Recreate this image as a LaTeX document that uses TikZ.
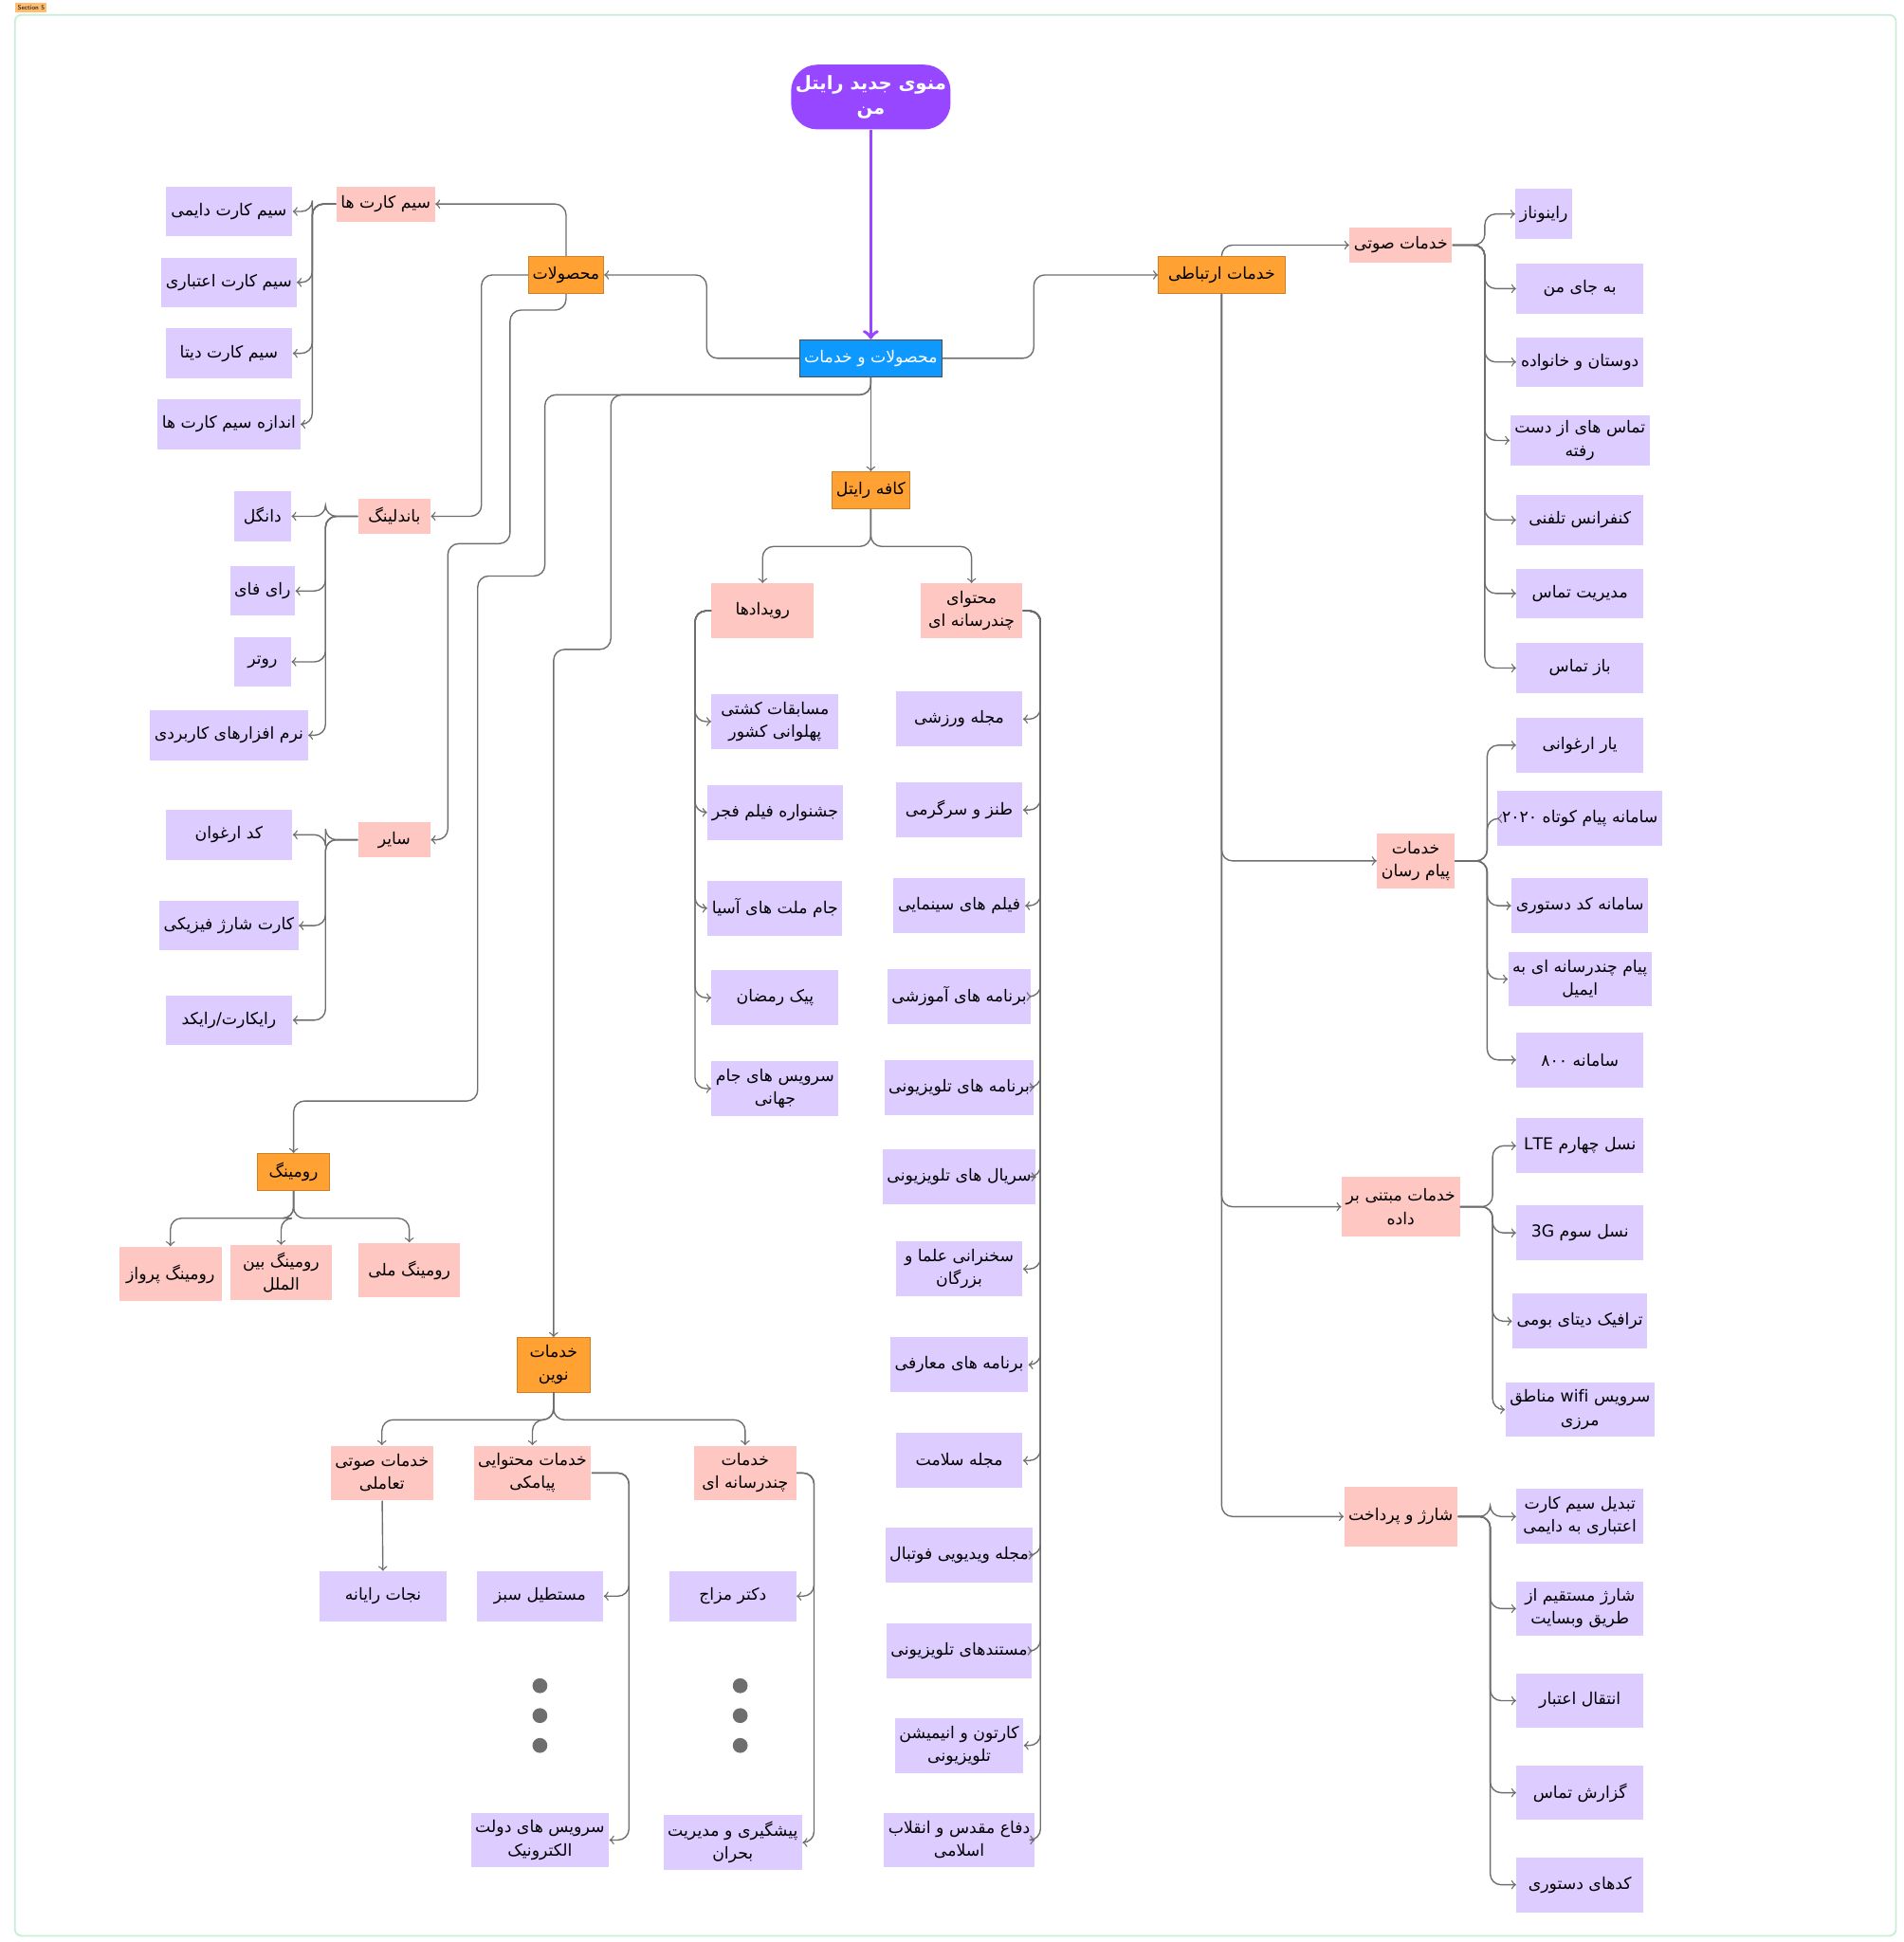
\documentclass[tikz,border=0pt]{standalone}
\usepackage{fontspec}
\newfontfamily\persian{DejaVu Sans}[Script=Arabic]
\usetikzlibrary{shapes,arrows,positioning,fit,calc}
\TeXXeTstate=1
\newcommand{\fa}[1]{\beginR #1\endR}
\definecolor{rootc}{HTML}{9747FF}
\definecolor{hubc}{HTML}{0D99FF}
\definecolor{orangec}{HTML}{FFA133}
\definecolor{pinkc}{HTML}{FFC7C2}
\definecolor{lavc}{HTML}{DCCCFF}
\definecolor{linec}{HTML}{6E6E6E}
\definecolor{framec}{HTML}{C9EED6}
\begin{document}
\begin{tikzpicture}[x=0.02cm, y=-0.02cm]
        % Define styles
        \tikzstyle{base} = [rectangle, align=center, inner sep=2pt,
            font=\persian\fontsize{7.5}{10.5}\selectfont]
        \tikzstyle{item} = [base, fill=lavc, minimum width=2.04cm, minimum height=0.8cm]
        \tikzstyle{group} = [base, fill=pinkc, minimum width=1.64cm, minimum height=0.56cm]
        \tikzstyle{main} = [base, fill=orangec, draw=orangec!80!black, line width=0.3pt, minimum width=1.16cm, minimum height=0.6cm]
        \tikzstyle{arrow} = [->, >=to, draw=linec, line width=0.6pt, rounded corners=5pt]

        \useasboundingbox (0,0) rectangle (1530,1561);
        \draw[framec, line width=0.8pt, rounded corners=3pt] (12,12) rectangle (1524,1556);
        \node[fill=orangec!70, inner sep=1pt, font=\sffamily\fontsize{3}{3}\selectfont, anchor=north west] (tag) at (12,2) {Section 5};

        % Nodes
        \node [base, fill=rootc, text=white, rounded corners=12pt, minimum width=2cm, minimum height=1.04cm, font=\persian\bfseries\fontsize{8.5}{11}\selectfont] (root) at (700,78) {\fa{منوی جدید رایتل}\\\fa{من}};
        \node [base, fill=hubc, draw=black!70, text=white, minimum width=2.04cm, minimum height=0.6cm] (hub) at (700,288) {\fa{محصولات و خدمات}};
        \node [main] (products) at (455,221) {\fa{محصولات}};
        \node [main, minimum width=2.04cm] (comm) at (982,221) {\fa{خدمات ارتباطی}};
        \node [main] (cafe) at (700,394) {\fa{کافه رایتل}};
        \node [main] (roaming) at (236,942) {\fa{رومینگ}};
        \node [main, minimum height=0.88cm] (novin) at (445,1097) {\fa{خدمات}\\\fa{نوین}};

        \node [group, minimum width=1.44cm] (sims) at (310,164) {\fa{سیم کارت ها}};
        \node [group, minimum width=1.16cm] (bundling) at (317,415) {\fa{باندلینگ}};
        \node [group, minimum width=1.16cm] (other) at (317,675) {\fa{سایر}};
        \node [group, minimum height=0.88cm] (events) at (613,491) {\fa{رویدادها}};
        \node [group, minimum height=0.88cm] (media) at (781,491) {\fa{محتوای}\\\fa{چندرسانه ای}};
        \node [group] (voice) at (1126,197) {\fa{خدمات صوتی}};
        \node [group, minimum width=1.16cm, minimum height=0.88cm] (msg) at (1138,692) {\fa{خدمات}\\\fa{پیام رسان}};
        \node [group, minimum height=0.96cm] (data) at (1126,970) {\fa{خدمات مبتنی بر}\\\fa{داده}};
        \node [group, minimum height=0.96cm] (charge) at (1126,1219) {\fa{شارژ و پرداخت}};
        \node [group, minimum height=0.88cm] (flight) at (137,1024) {\fa{رومینگ پرواز}};
        \node [group, minimum height=0.88cm] (intl) at (226,1023) {\fa{رومینگ بین}\\\fa{الملل}};
        \node [group, minimum height=0.88cm] (national) at (329,1021) {\fa{رومینگ ملی}};
        \node [group, minimum height=0.88cm] (ivr) at (307,1184) {\fa{خدمات صوتی}\\\fa{تعاملی}};
        \node [group, minimum height=0.88cm] (sms) at (428,1184) {\fa{خدمات محتوایی}\\\fa{پیامکی}};
        \node [group, minimum height=0.88cm] (mms) at (599,1184) {\fa{خدمات}\\\fa{چندرسانه ای}};

        % Arrows from the hub
        \draw [->, >=to, draw=rootc, line width=1.6pt] (root) -- (hub);
        \draw [arrow] (hub.west) -- (568,288) |- (products.east);
        \draw [arrow] (hub.east) -- (831,288) |- (comm.west);
        \draw [arrow] (hub) -- (cafe);
        \draw [arrow] (hub.south) -- ++(0,14) -| (438,463) -| (384,885) -| (roaming.north);
        \draw [arrow] (hub.south) -- ++(0,14) -| (491,522) -| (novin.north);
        \draw [arrow] (products.north) |- (sims.east);
        \draw [arrow] (products.west) -- (387,221) |- (bundling.east);
        \draw [arrow] (products.south) -- ++(0,13) -| (410,437) -| (360,675) -- (other.east);
        \draw [arrow] (cafe.south) -- ++(0,30) -| (events.north);
        \draw [arrow] (cafe.south) -- ++(0,30) -| (media.north);
        \draw [arrow] (comm.north) |- (voice.west);
        \foreach \g in {msg, data, charge}
            \draw [arrow] (comm.south) |- (\g.west);
        \foreach \g in {flight, intl, national}
            \draw [arrow] (roaming.south) -- ++(0,22) -| (\g.north);
        \foreach \g in {ivr, sms, mms}
            \draw [arrow] (novin.south) -- ++(0,22) -| (\g.north);

        % Left side lists
        \foreach \y/\t [count=\i] in {170/{\fa{سیم کارت دایمی}}, 227/{\fa{سیم کارت اعتباری}},
                284/{\fa{سیم کارت دیتا}}, 341/{\fa{اندازه سیم کارت ها}}} {
            \node [item] (sim\i) at (184,\y) {\t};
            \draw [arrow] (sims.west) -- ++(-19,0) |- (sim\i.east);
        }
        \foreach \x/\y/\w/\t [count=\i] in {211/415/0.92/{\fa{دانگل}}, 211/475/0.92/{\fa{رای فای}},
                211/532/0.92/{\fa{روتر}}, 184/591/2.04/{\fa{نرم افزارهای کاربردی}}} {
            \node [item, minimum width=\w cm] (bund\i) at (\x,\y) {\t};
            \draw [arrow] (bundling.west) -- ++(-26,0) |- (bund\i.east);
        }
        \foreach \y/\t [count=\i] in {671/{\fa{کد ارغوان}}, 744/{\fa{کارت شارژ فیزیکی}},
                820/{\fa{رایکارت/رایکد}}} {
            \node [item] (oth\i) at (184,\y) {\t};
            \draw [arrow] (other.west) -- ++(-26,0) |- (oth\i.east);
        }

        % Cafe lists
        \foreach \y/\t [count=\i] in {580/{\fa{مسابقات کشتی}\\\fa{پهلوانی کشور}}, 653/{\fa{جشنواره فیلم فجر}},
                730/{\fa{جام ملت های آسیا}}, 802/{\fa{پیک رمضان}}, 875/{\fa{سرویس های جام}\\\fa{جهانی}}} {
            \node [item, minimum height=0.88cm] (ev\i) at (623,\y) {\t};
            \draw [arrow] (events.west) -- ++(-13,0) |- (ev\i.west);
        }
        \foreach \y/\t [count=\i] in {578/{\fa{مجله ورزشی}}, 651/{\fa{طنز و سرگرمی}}, 728/{\fa{فیلم های سینمایی}},
                801/{\fa{برنامه های آموزشی}}, 874/{\fa{برنامه های تلویزیونی}}, 946/{\fa{سریال های تلویزیونی}},
                1020/{\fa{سخنرانی علما و}\\\fa{بزرگان}}, 1097/{\fa{برنامه های معارفی}}, 1174/{\fa{مجله سلامت}},
                1250/{\fa{مجله ویدیویی فوتبال}}, 1327/{\fa{مستندهای تلویزیونی}},
                1403/{\fa{کارتون و انیمیشن}\\\fa{تلویزیونی}}, 1479/{\fa{دفاع مقدس و انقلاب}\\\fa{اسلامی}}} {
            \node [item, minimum height=0.88cm] (med\i) at (771,\y) {\t};
            \draw [arrow] (media.east) -- ++(14,0) |- (med\i.east);
        }

        % Right side lists
        \foreach \x/\y/\w/\t [count=\i] in {1241/172/0.88/{\fa{راینوناز}}, 1270/232/2.04/{\fa{به جای من}},
                1270/291/2.04/{\fa{دوستان و خانواده}}, 1270/354/2.04/{\fa{تماس های از دست}\\\fa{رفته}},
                1270/418/2.04/{\fa{کنفرانس تلفنی}}, 1270/477/2.04/{\fa{مدیریت تماس}}, 1270/537/2.04/{\fa{باز تماس}}} {
            \node [item, minimum width=\w cm] (voi\i) at (\x,\y) {\t};
            \draw [arrow] (voice.east) -- ++(26,0) |- (voi\i.west);
        }
        \foreach \y/\t [count=\i] in {599/{\fa{یار ارغوانی}}, 658/{\fa{سامانه پیام کوتاه ۲۰۲۰}},
                728/{\fa{سامانه کد دستوری}}, 787/{\fa{پیام چندرسانه ای به}\\\fa{ایمیل}}, 852/{\fa{سامانه ۸۰۰}}} {
            \node [item, minimum height=0.88cm] (ms\i) at (1270,\y) {\t};
            \draw [arrow] (msg.east) -- ++(26,0) |- (ms\i.west);
        }
        \foreach \y/\t [count=\i] in {921/{\fa{نسل چهارم LTE}}, 991/{\fa{نسل سوم 3G}},
                1062/{\fa{ترافیک دیتای بومی}}, 1133/{\fa{سرویس wifi مناطق}\\\fa{مرزی}}} {
            \node [item, minimum height=0.88cm] (dat\i) at (1270,\y) {\t};
            \draw [arrow] (data.east) -- ++(26,0) |- (dat\i.west);
        }
        \foreach \y/\t [count=\i] in {1219/{\fa{تبدیل سیم کارت}\\\fa{اعتباری به دایمی}},
                1293/{\fa{شارژ مستقیم از}\\\fa{طریق وبسایت}}, 1367/{\fa{انتقال اعتبار}},
                1441/{\fa{گزارش تماس}}, 1515/{\fa{کدهای دستوری}}} {
            \node [item, minimum height=0.88cm] (chg\i) at (1270,\y) {\t};
            \draw [arrow] (charge.east) -- ++(26,0) |- (chg\i.west);
        }

        % Novin lists
        \node [item] (rescue) at (308,1283) {\fa{نجات رایانه}};
        \draw [arrow] (ivr) -- (rescue);
        \node [item] (green) at (434,1283) {\fa{مستطیل سبز}};
        \node [item, minimum height=0.88cm] (egov) at (434,1479) {\fa{سرویس های دولت}\\\fa{الکترونیک}};
        \node [item] (mood) at (589,1283) {\fa{دکتر مزاج}};
        \node [item, minimum height=0.88cm] (crisis) at (589,1481) {\fa{پیشگیری و مدیریت}\\\fa{بحران}};
        \foreach \c in {green, egov}
            \draw [arrow] (sms.east) -- ++(30,0) |- (\c.east);
        \foreach \c in {mood, crisis}
            \draw [arrow] (mms.east) -- ++(14,0) |- (\c.east);
        \foreach \y in {1355, 1379, 1403} {
            \fill [linec] (434,\y) circle (0.12cm);
            \fill [linec] (595,\y) circle (0.12cm);
        }

    \end{tikzpicture}
\end{document}
